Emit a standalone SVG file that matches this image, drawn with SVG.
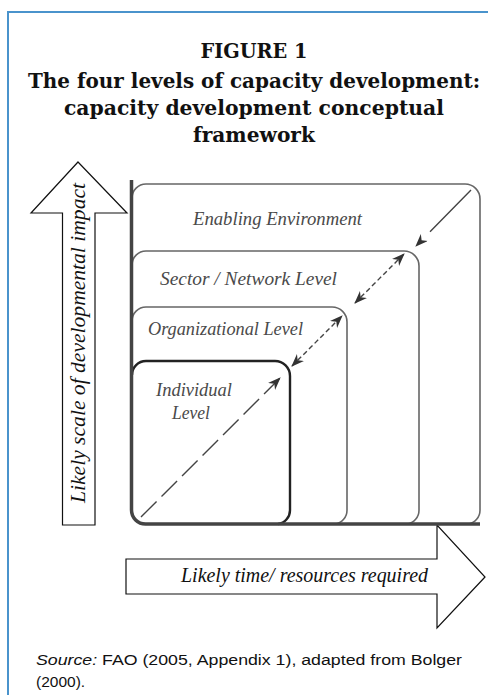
<svg xmlns="http://www.w3.org/2000/svg" width="488" height="695" viewBox="0 0 488 695">
<style>
.title{font-family:"DejaVu Serif","Liberation Serif",serif;font-weight:bold;font-size:18px;fill:#111;text-anchor:middle}
.lab{font-family:"Liberation Serif",serif;font-style:italic;fill:#4a4a4a}
.big{font-family:"Liberation Serif",serif;font-style:italic;fill:#111}
.src{font-family:"Liberation Sans",sans-serif;font-size:15.5px;fill:#111}
.box{fill:none;stroke:#666;stroke-width:1.6}
.arr{fill:#fff;stroke:#111;stroke-width:1.2}
.diag{fill:none;stroke:#444;stroke-width:1.4}
</style>
<defs>
<marker id="ah" markerUnits="userSpaceOnUse" markerWidth="14" markerHeight="10" refX="12" refY="5" orient="auto-start-reverse" viewBox="0 0 14 10">
<path d="M0,0 L13,5 L0,10 L4,5 z" fill="#333"/>
</marker>
</defs>
<rect width="488" height="695" fill="#fff"/>
<path d="M8,695 V12 H488" fill="none" stroke="#4a93cc" stroke-width="2"/>
<g id="title" transform="scale(1,1.17)">
<text class="title" x="254" y="49.6" textLength="107" lengthAdjust="spacingAndGlyphs">FIGURE 1</text>
<text class="title" x="254" y="75.2" textLength="452" lengthAdjust="spacingAndGlyphs">The four levels of capacity development:</text>
<text class="title" x="254" y="98.3" textLength="380" lengthAdjust="spacingAndGlyphs">capacity development conceptual</text>
<text class="title" x="254" y="121.4" textLength="122" lengthAdjust="spacingAndGlyphs">framework</text>
</g>
<g id="up-arrow">
<path class="arr" d="M78,162 L127,213 H95 V525 H62.5 V213 H31 Z"/>
<text class="big" font-size="21" transform="translate(85,503) rotate(-90)" textLength="320" lengthAdjust="spacingAndGlyphs">Likely scale of developmental impact</text>
</g>
<g id="right-arrow">
<path class="arr" d="M485,577 L437,628 V594 H126 V559 H437 V525 Z"/>
<text class="big" font-size="20" x="181" y="582" textLength="247" lengthAdjust="spacingAndGlyphs">Likely time/ resources required</text>
</g>
<g id="enabling">
<path class="box" stroke="#555" stroke-width="2" d="M132,198 A14,14 0 0 1 146,184 H465 A15,15 0 0 1 480,199 V510 A14,14 0 0 1 468,524"/>
<text class="lab" font-size="18" x="193" y="225" textLength="169" lengthAdjust="spacingAndGlyphs">Enabling Environment</text>
</g>
<g id="sector">
<path class="box" d="M132,265 A14,14 0 0 1 146,251 H404 A15,15 0 0 1 419,266 V510 A14,14 0 0 1 407,524"/>
<text class="lab" font-size="18" x="160" y="285" textLength="177" lengthAdjust="spacingAndGlyphs">Sector / Network Level</text>
</g>
<g id="organizational">
<path class="box" d="M132,321 A14,14 0 0 1 146,307 H332 A15,15 0 0 1 347,322 V510 A14,14 0 0 1 335,524"/>
<text class="lab" font-size="18" x="148" y="335" textLength="155" lengthAdjust="spacingAndGlyphs">Organizational Level</text>
</g>
<g id="individual">
<path fill="none" stroke="#222" stroke-width="2.4" d="M132,375 A14,14 0 0 1 146,361 H275 A15,15 0 0 1 290,376 V510 A14,14 0 0 1 278,524"/>
<text class="lab" font-size="18" x="156" y="396" textLength="76" lengthAdjust="spacingAndGlyphs">Individual</text>
<text class="lab" font-size="18" x="172" y="419" textLength="38" lengthAdjust="spacingAndGlyphs">Level</text>
</g>
<g id="axes">
<path d="M131.5,180 V510 A14,14 0 0 0 145.5,524 H480" fill="none" stroke="#444" stroke-width="3.5"/>
</g>
<g id="connectors">
<line class="diag" x1="141" y1="517" x2="280" y2="378" stroke-dasharray="22 7" marker-end="url(#ah)"/>
<line class="diag" x1="292" y1="366" x2="342" y2="316" stroke-dasharray="5 3" marker-start="url(#ah)" marker-end="url(#ah)"/>
<line class="diag" x1="355" y1="303" x2="404" y2="254" stroke-dasharray="5 3" marker-start="url(#ah)" marker-end="url(#ah)"/>
<line class="diag" x1="416" y1="246" x2="471" y2="190" stroke-dasharray="0 20 70" marker-start="url(#ah)"/>
</g>
<g id="source">
<text class="src" x="36" y="665" textLength="426" lengthAdjust="spacingAndGlyphs"><tspan font-style="italic">Source:</tspan> FAO (2005, Appendix 1), adapted from Bolger</text>
<text class="src" x="36" y="687">(2000).</text>
</g>
</svg>
